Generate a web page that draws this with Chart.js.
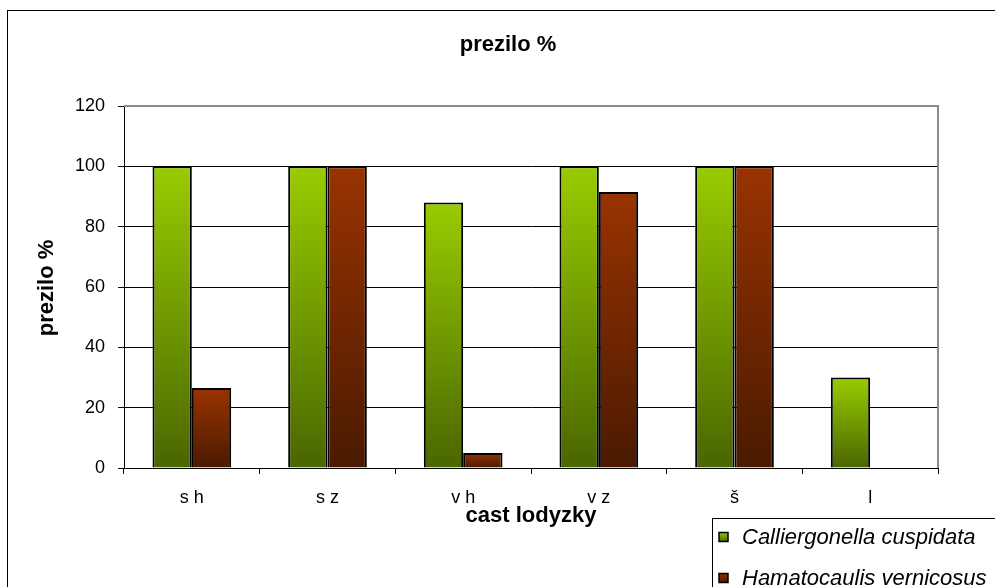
<!DOCTYPE html>
<html lang="en">
<head>
    <meta charset="UTF-8">
    <title>prezilo %</title>
    <script src="https://cdn.jsdelivr.net/npm/chart.js"></script>
    <style>
        body { margin: 0; background: #fff; }
        #wrap { width: 995px; height: 587px; position: relative; }
    </style>
</head>
<body>
<div id="wrap"><canvas id="myChart" width="995" height="587"></canvas></div>

<script>
    // data
    const labels = ['s h', 's z', 'v h', 'v z', 'š', 'l'];
    const callierValues = [100, 100, 88, 100, 100, 30];
    const hamatoValues = [26.5, 100, 5, 91.5, 100, 0];
    const seriesNames = ['Calliergonella cuspidata', 'Hamatocaulis vernicosus'];
    const yTicks = [0, 20, 40, 60, 80, 100, 120];

    const FONT = 'Arial, "Liberation Sans", sans-serif';
    const GREEN = ['#99cc00', '#4a6600'];
    const RED = ['#993300', '#4a1a00'];

    // vertical gradient per bar, light on top, dark at the base
    function barGradient(cols) {
        return function (c) {
            const chart = c.chart;
            if (!chart.chartArea || c.raw === undefined) return cols[0];
            const y = chart.scales.y;
            const top = y.getPixelForValue(c.raw);
            const base = y.getPixelForValue(0);
            if (base - top < 1) return cols[1];
            const g = chart.ctx.createLinearGradient(0, top, 0, base);
            g.addColorStop(0, cols[0]);
            g.addColorStop(1, cols[1]);
            return g;
        };
    }

    const decor = {
        id: 'decor',
        beforeDraw(chart) {
            const c = chart.ctx;
            c.save();
            c.fillStyle = '#fff';
            c.fillRect(0, 0, chart.width, chart.height);
            c.restore();
        },
        afterDraw(chart) {
            const c = chart.ctx;
            const a = chart.chartArea;
            c.save();
            // grey frame of plot area (top + right)
            c.strokeStyle = '#8c8c8c';
            c.lineWidth = 2;
            c.beginPath();
            c.moveTo(a.left, a.top);
            c.lineTo(a.right, a.top);
            c.lineTo(a.right, a.bottom);
            c.stroke();

            // outer frame
            c.strokeStyle = '#000';
            c.lineWidth = 1;
            c.strokeRect(7.5, 10.5, 1000, 600);

            // titles
            c.fillStyle = '#000';
            c.textAlign = 'center';
            c.textBaseline = 'middle';
            c.font = 'bold 22px ' + FONT;
            c.fillText('prezilo %', 508, 45);
            c.fillText('cast lodyzky', 531, 516);
            c.translate(47, 288);
            c.rotate(-Math.PI / 2);
            c.fillText('prezilo %', 0, 0);
            c.setTransform(1, 0, 0, 1, 0, 0);

            // legend box
            c.lineWidth = 1;
            c.strokeRect(712.5, 518.5, 400, 100);
            const rows = [[537, GREEN], [578, RED]];
            c.font = 'italic 22px ' + FONT;
            c.textAlign = 'left';
            rows.forEach((r, i) => {
                const y = r[0];
                const g = c.createLinearGradient(0, y - 5, 0, y + 5);
                g.addColorStop(0, r[1][0]);
                g.addColorStop(1, r[1][1]);
                c.fillStyle = g;
                c.fillRect(719, y - 4.5, 9, 9);
                c.strokeStyle = '#000';
                c.lineWidth = 1.5;
                c.strokeRect(719, y - 4.5, 9, 9);
                c.fillStyle = '#000';
                c.fillText(seriesNames[i], 742, y + 1);
            });
            c.restore();
        }
    };

    const ctx = document.getElementById('myChart').getContext('2d');
    const myChart = new Chart(ctx, {
        type: 'bar',
        data: {
            labels: labels,
            datasets: [{
                label: seriesNames[0],
                data: callierValues,
                backgroundColor: barGradient(GREEN),
                borderColor: '#000',
                borderWidth: 2
            }, {
                label: seriesNames[1],
                data: hamatoValues,
                backgroundColor: barGradient(RED),
                borderColor: '#000',
                borderWidth: 2
            }]
        },
        options: {
            responsive: false,
            animation: false,
            layout: { padding: { left: 0, top: 106, right: 57, bottom: 0 } },
            datasets: { bar: { categoryPercentage: 0.58, barPercentage: 1 } },
            plugins: {
                legend: { display: false },
                title: { display: false },
                tooltip: { enabled: false }
            },
            scales: {
                x: {
                    afterFit: s => { s.height = 119; },
                    grid: { drawOnChartArea: false, drawTicks: true, tickLength: 6, color: '#000' },
                    border: { color: '#000', width: 1 },
                    ticks: { color: '#000', font: { family: FONT, size: 18 }, padding: 13, maxRotation: 0 }
                },
                y: {
                    min: 0,
                    max: 120,
                    afterFit: s => { s.width = 124; },
                    afterBuildTicks: s => { s.ticks = yTicks.map(v => ({ value: v })); },
                    grid: {
                        color: c => (c.tick && c.tick.value === 120 ? 'rgba(0,0,0,0)' : '#000'),
                        tickColor: '#000',
                        tickLength: 6
                    },
                    border: { color: '#000', width: 1 },
                    ticks: { color: '#000', font: { family: FONT, size: 18 }, padding: 13 }
                }
            }
        },
        plugins: [decor]
    });
</script>
</body>
</html>
